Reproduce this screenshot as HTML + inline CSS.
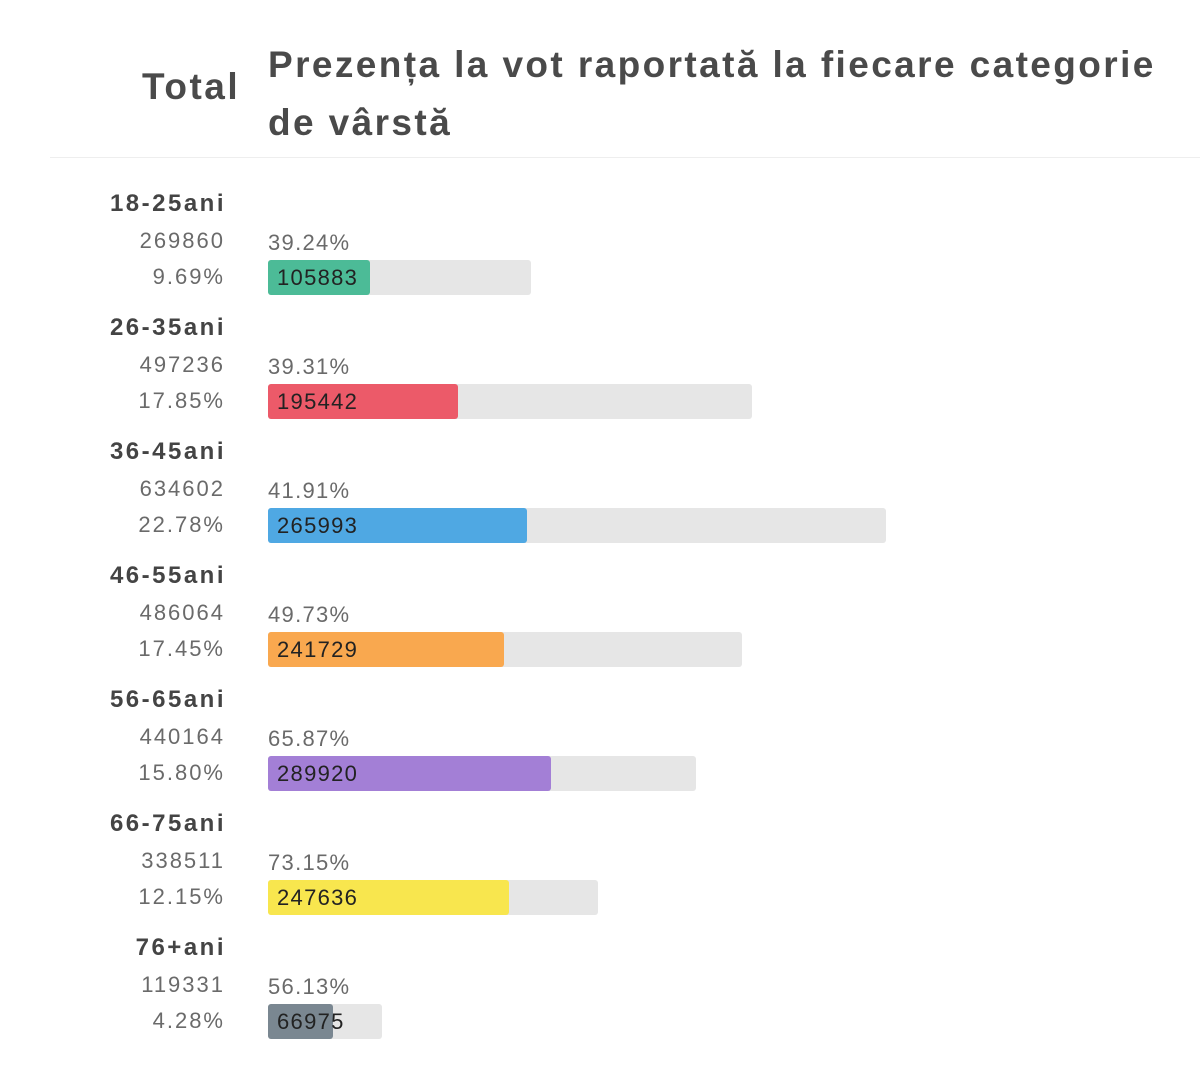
<!DOCTYPE html>
<html><head><meta charset="utf-8"><style>
body{margin:0;width:1200px;height:1080px;background:#fff;font-family:"Liberation Sans","DejaVu Sans",sans-serif;position:relative;overflow:hidden}
.a{position:absolute;white-space:nowrap}
.t{font-weight:bold;color:#4a4a4a}
.lab{font-weight:bold;color:#444;font-size:24px;right:974px;letter-spacing:2.5px}
.num{color:#6a6a6a;font-size:22px;right:975px;letter-spacing:2px}
.pct{color:#6a6a6a;font-size:22px;left:268px;letter-spacing:1.3px}
.bg{position:absolute;left:268px;height:35px;background:#e6e6e6;border-radius:3px}
.fg{position:absolute;left:0;top:0;height:35px;border-radius:3px}
.bv{position:absolute;left:9px;top:5px;font-size:22px;color:#222;letter-spacing:1.3px}
</style></head><body>
<div class="a t" style="left:142px;top:66px;font-size:37px;letter-spacing:2.5px">Total</div>
<div class="a t" style="left:268px;top:36px;font-size:37px;line-height:58px;letter-spacing:2.4px">Prezența la vot raportată la fiecare categorie<br>de vârstă</div>
<div class="a" style="left:50px;top:157px;width:1150px;height:1px;background:#eee"></div>

<div class="a lab" style="top:190px">18-25ani</div>
<div class="a num" style="top:228px">269860</div>
<div class="a num" style="top:264px">9.69%</div>
<div class="a pct" style="top:230px">39.24%</div>
<div class="bg" style="top:260px;width:263px"><div class="fg" style="width:102px;background:#4cbb97"></div><div class="bv">105883</div></div>

<div class="a lab" style="top:314px">26-35ani</div>
<div class="a num" style="top:352px">497236</div>
<div class="a num" style="top:388px">17.85%</div>
<div class="a pct" style="top:354px">39.31%</div>
<div class="bg" style="top:384px;width:484px"><div class="fg" style="width:190px;background:#ec5a69"></div><div class="bv">195442</div></div>

<div class="a lab" style="top:438px">36-45ani</div>
<div class="a num" style="top:476px">634602</div>
<div class="a num" style="top:512px">22.78%</div>
<div class="a pct" style="top:478px">41.91%</div>
<div class="bg" style="top:508px;width:618px"><div class="fg" style="width:259px;background:#4fa8e3"></div><div class="bv">265993</div></div>

<div class="a lab" style="top:562px">46-55ani</div>
<div class="a num" style="top:600px">486064</div>
<div class="a num" style="top:636px">17.45%</div>
<div class="a pct" style="top:602px">49.73%</div>
<div class="bg" style="top:632px;width:474px"><div class="fg" style="width:236px;background:#f9a84f"></div><div class="bv">241729</div></div>

<div class="a lab" style="top:686px">56-65ani</div>
<div class="a num" style="top:724px">440164</div>
<div class="a num" style="top:760px">15.80%</div>
<div class="a pct" style="top:726px">65.87%</div>
<div class="bg" style="top:756px;width:428px"><div class="fg" style="width:283px;background:#a37fd6"></div><div class="bv">289920</div></div>

<div class="a lab" style="top:810px">66-75ani</div>
<div class="a num" style="top:848px">338511</div>
<div class="a num" style="top:884px">12.15%</div>
<div class="a pct" style="top:850px">73.15%</div>
<div class="bg" style="top:880px;width:330px"><div class="fg" style="width:241px;background:#f8e64e"></div><div class="bv">247636</div></div>

<div class="a lab" style="top:934px">76+ani</div>
<div class="a num" style="top:972px">119331</div>
<div class="a num" style="top:1008px">4.28%</div>
<div class="a pct" style="top:974px">56.13%</div>
<div class="bg" style="top:1004px;width:114px"><div class="fg" style="width:65px;background:#7a8791"></div><div class="bv">66975</div></div>
</body></html>
